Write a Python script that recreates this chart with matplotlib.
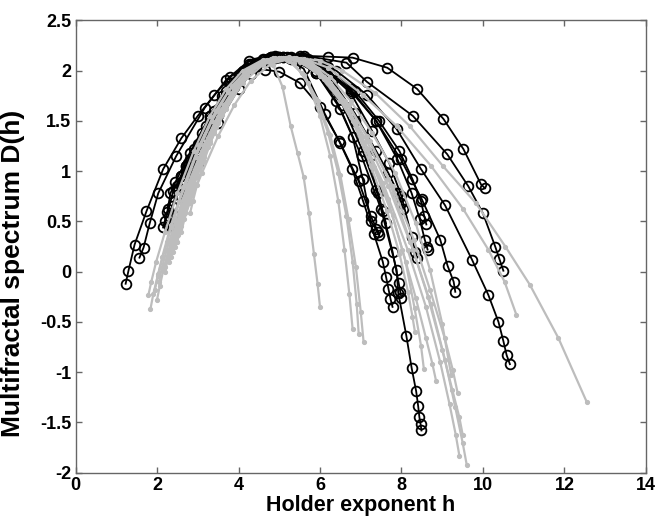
import matplotlib
matplotlib.use("Agg")
import matplotlib.pyplot as plt
from matplotlib.ticker import FuncFormatter

# ---- data: black (circle) spectra ----
black_h = [
    [1.23,1.30,1.45,1.74,2.15,2.60,3.00,3.41,3.80,4.25,4.80,5.50,6.20,6.80,7.65,8.38,9.03,9.52,9.95,10.05],
    [1.57,1.67,1.82,2.03,2.47,3.17,3.70,4.26,4.90,5.60,6.65,7.15,8.28,9.12,9.64,10.00,10.30,10.40,10.50],
    [2.15,2.25,2.33,2.45,2.80,3.30,3.85,4.40,5.00,5.70,6.40,7.15,7.88,8.48,9.07,9.73,10.13,10.38,10.50,10.58,10.66],
    [2.20,2.28,2.40,2.70,3.20,3.70,4.20,4.70,5.30,6.00,6.75,7.38,7.98,8.50,8.95,9.13,9.28,9.32],
    [2.30,2.38,2.50,2.80,3.30,3.80,4.30,4.80,5.30,5.90,6.50,7.02,7.50,7.88,7.92,8.12,8.25,8.36,8.41,8.44,8.47,8.49],
    [2.50,2.60,2.75,3.10,3.60,4.10,4.60,5.10,5.60,6.12,6.47,6.79,7.06,7.32,7.54,7.62,7.68,7.73,7.78],
    [2.60,2.70,2.90,3.30,3.80,4.30,4.80,5.30,5.90,6.55,7.05,7.43,7.78,7.93,7.97,8.00],
    [2.70,2.80,3.00,3.40,3.90,4.40,4.90,5.50,6.10,6.75,7.38,7.90,8.25,8.45,8.57,8.62,8.64],
    [2.75,2.85,3.05,3.45,3.95,4.45,4.95,5.50,6.10,6.75,7.28,7.70,8.00,8.25,8.34,8.38],
    [2.80,2.90,3.10,3.50,4.00,4.50,5.00,5.60,6.20,6.85,7.45,7.95,8.27,8.48,8.56,8.61],
    [2.90,3.00,3.20,3.60,4.10,4.60,5.10,5.70,6.30,6.85,7.38,7.68,7.92,8.00,8.03],
    [3.00,3.10,3.30,3.70,4.20,4.70,5.20,5.80,6.30,6.85,7.22,7.38,7.54,7.62],
    [3.20,3.30,3.50,3.90,4.40,4.90,5.40,5.90,6.40,6.80,7.05,7.25,7.38,7.44],
    [2.30,2.40,2.60,3.00,3.50,4.00,4.30,4.65,5.00,5.50,6.00,6.50,6.95,7.25,7.42],
]
black_D = [
    [-0.12,0.01,0.27,0.60,1.02,1.33,1.55,1.76,1.94,2.07,2.14,2.15,2.14,2.13,2.03,1.82,1.52,1.22,0.87,0.83],
    [0.14,0.24,0.48,0.78,1.15,1.63,1.91,2.10,2.15,2.15,2.08,1.89,1.55,1.17,0.85,0.58,0.25,0.13,0.01],
    [0.44,0.59,0.78,0.89,1.18,1.55,1.85,2.05,2.14,2.12,2.00,1.76,1.42,1.02,0.66,0.12,-0.23,-0.50,-0.69,-0.83,-0.92],
    [0.50,0.62,0.80,1.05,1.45,1.80,2.02,2.12,2.14,2.06,1.82,1.50,1.12,0.72,0.32,0.06,-0.10,-0.20],
    [0.55,0.65,0.82,1.12,1.52,1.85,2.06,2.13,2.12,1.98,1.62,1.15,0.62,0.02,-0.21,-0.64,-0.96,-1.19,-1.34,-1.45,-1.52,-1.58],
    [0.85,0.95,1.08,1.38,1.75,2.00,2.12,2.14,2.02,1.57,1.30,1.02,0.70,0.38,0.10,-0.05,-0.17,-0.27,-0.35],
    [0.95,1.05,1.22,1.55,1.88,2.07,2.14,2.13,2.00,1.66,1.20,0.78,0.20,-0.11,-0.20,-0.26],
    [1.00,1.10,1.27,1.60,1.92,2.08,2.14,2.13,2.03,1.80,1.50,1.12,0.78,0.52,0.32,0.25,0.22],
    [0.98,1.08,1.25,1.58,1.90,2.07,2.14,2.13,2.02,1.78,1.40,1.08,0.75,0.35,0.20,0.14],
    [1.02,1.12,1.30,1.62,1.94,2.09,2.14,2.13,2.04,1.80,1.50,1.20,0.92,0.70,0.55,0.47],
    [1.10,1.20,1.38,1.70,1.98,2.11,2.14,2.10,1.90,1.58,1.20,0.98,0.78,0.68,0.62],
    [1.18,1.28,1.45,1.76,2.02,2.12,2.14,2.06,1.84,1.50,1.15,0.81,0.60,0.48],
    [1.30,1.40,1.56,1.84,2.05,2.13,2.12,1.98,1.70,1.34,0.92,0.50,0.42,0.37],
    [0.45,0.56,0.74,1.08,1.48,1.82,1.97,2.01,1.99,1.88,1.64,1.28,0.90,0.55,0.40],
]

# ---- data: gray (dot) spectra ----
gray_h = [
    [2.40,2.48,2.60,2.80,3.10,3.50,3.90,4.30,4.80,5.40,6.00,6.55,7.35,8.20,9.02,9.83,10.55,11.15,11.85,12.55],
    [2.20,2.28,2.40,2.60,2.90,3.30,3.70,4.10,4.60,5.10,5.60,6.20,7.05,7.88,8.73,9.52,10.13,10.53,10.82],
    [1.79,1.86,1.98,2.20,2.50,2.90,3.30,3.70,4.10,4.60,5.10,5.60,6.10,6.62,7.15,7.68,8.28,8.72,9.07,9.32,9.50,9.60],
    [1.84,1.91,2.03,2.25,2.55,2.95,3.35,3.75,4.15,4.60,5.05,5.50,6.00,6.50,7.02,7.55,8.15,8.60,8.95,9.18,9.33,9.42],
    [2.00,2.07,2.18,2.40,2.70,3.10,3.50,3.90,4.30,4.75,5.20,5.70,6.20,6.70,7.22,7.78,8.30,8.70,9.06,9.26,9.38],
    [2.05,2.12,2.24,2.45,2.75,3.15,3.55,3.95,4.35,4.80,5.25,5.75,6.25,6.75,7.28,7.85,8.35,8.70,9.00,9.22],
    [2.20,2.27,2.38,2.58,2.88,3.25,3.65,4.05,4.45,4.90,5.35,5.80,6.25,6.70,7.18,7.66,8.02,8.35,8.60,8.76,8.85],
    [2.35,2.42,2.53,2.73,3.02,3.40,3.80,4.20,4.60,5.05,5.50,5.95,6.40,6.85,7.32,7.78,8.10,8.32,8.48,8.55],
    [2.50,2.57,2.68,2.88,3.15,3.50,3.85,4.20,4.55,4.90,5.25,5.60,5.95,6.25,6.50,6.70,6.88,7.00,7.07],
    [2.60,2.67,2.78,2.97,3.25,3.60,3.95,4.30,4.65,5.00,5.35,5.70,6.00,6.25,6.45,6.60,6.72,6.80],
    [2.81,2.88,2.98,3.15,3.40,3.70,4.00,4.30,4.58,4.85,5.08,5.28,5.45,5.60,5.73,5.85,5.94,6.00],
    [2.45,2.52,2.63,2.83,3.10,3.45,3.80,4.15,4.50,4.85,5.20,5.55,5.90,6.20,6.45,6.65,6.80,6.90,6.95],
    [1.95,2.02,2.13,2.34,2.64,3.04,3.44,3.84,4.24,4.70,5.15,5.62,6.10,6.62,7.15,7.68,8.22,8.65,9.00,9.25,9.42,9.50],
    [2.30,2.37,2.48,2.68,2.98,3.36,3.76,4.16,4.56,5.00,5.45,5.90,6.35,6.80,7.25,7.65,7.95,8.16,8.27,8.33],
]
gray_D = [
    [0.20,0.30,0.45,0.68,0.98,1.35,1.66,1.90,2.07,2.13,2.10,2.00,1.78,1.45,1.05,0.68,0.25,-0.13,-0.66,-1.30],
    [0.05,0.16,0.32,0.56,0.88,1.28,1.62,1.88,2.06,2.13,2.12,2.03,1.76,1.45,1.05,0.62,0.22,-0.10,-0.43],
    [-0.23,-0.10,0.10,0.40,0.78,1.20,1.55,1.82,2.00,2.11,2.13,2.08,1.92,1.66,1.30,0.85,0.22,-0.32,-0.88,-1.35,-1.70,-1.92],
    [-0.37,-0.22,-0.02,0.30,0.70,1.14,1.50,1.79,1.98,2.10,2.13,2.09,1.95,1.70,1.34,0.88,0.22,-0.35,-0.90,-1.32,-1.62,-1.83],
    [-0.28,-0.14,0.06,0.38,0.76,1.20,1.54,1.82,2.00,2.10,2.13,2.08,1.92,1.66,1.30,0.85,0.32,-0.18,-0.66,-0.98,-1.21],
    [-0.10,0.04,0.22,0.50,0.86,1.26,1.60,1.86,2.03,2.12,2.14,2.09,1.94,1.70,1.38,0.98,0.48,0.02,-0.52,-1.03],
    [0.00,0.14,0.32,0.60,0.95,1.33,1.66,1.90,2.05,2.12,2.13,2.06,1.88,1.60,1.22,0.72,0.22,-0.26,-0.66,-0.92,-1.09],
    [0.15,0.28,0.45,0.72,1.05,1.42,1.74,1.96,2.08,2.13,2.12,2.02,1.80,1.48,1.04,0.56,0.10,-0.36,-0.74,-0.97],
    [0.30,0.42,0.58,0.84,1.14,1.48,1.76,1.96,2.08,2.13,2.10,1.96,1.70,1.36,0.96,0.52,0.05,-0.40,-0.70],
    [0.40,0.52,0.68,0.94,1.24,1.56,1.82,2.00,2.10,2.13,2.08,1.88,1.55,1.15,0.70,0.22,-0.22,-0.57],
    [0.58,0.70,0.86,1.10,1.38,1.66,1.88,2.03,2.09,2.06,1.84,1.45,1.18,0.94,0.58,0.18,-0.12,-0.35],
    [0.25,0.37,0.54,0.80,1.10,1.44,1.73,1.94,2.07,2.13,2.11,1.98,1.72,1.38,0.98,0.55,0.10,-0.32,-0.62],
    [-0.18,-0.04,0.15,0.46,0.84,1.26,1.60,1.85,2.02,2.11,2.13,2.09,1.94,1.70,1.35,0.92,0.30,-0.25,-0.78,-1.18,-1.45,-1.62],
    [0.10,0.23,0.40,0.68,1.02,1.40,1.72,1.95,2.07,2.13,2.12,2.03,1.82,1.50,1.05,0.60,0.18,-0.20,-0.45,-0.60],
]

x_ticks = [0, 2, 4, 6, 8, 10, 12, 14]
y_ticks = [-2, -1.5, -1, -0.5, 0, 0.5, 1, 1.5, 2, 2.5]
x_label = "Holder exponent h"
y_label = "Multifractal spectrum D(h)"

plt.rcParams['font.family'] = ['Liberation Sans', 'DejaVu Sans']

fig = plt.figure(figsize=(6.67, 5.17), dpi=100)
ax = fig.add_axes([0.1132, 0.0857, 0.8553, 0.8747])

for h, d in zip(black_h, black_D):
    ax.plot(h, d, color='black', lw=1.3, marker='o', ms=7, mfc='none',
            mec='black', mew=1.3, zorder=2)
for h, d in zip(gray_h, gray_D):
    ax.plot(h, d, color='#bdbdbd', lw=1.6, marker='.', ms=5.5,
            mec='#bdbdbd', mfc='#bdbdbd', zorder=3)

ax.set_xlim(0, 14)
ax.set_ylim(-2, 2.5)
ax.set_xticks(x_ticks)
ax.set_yticks(y_ticks)
ax.xaxis.set_major_formatter(FuncFormatter(lambda v, p: '%g' % v))
ax.yaxis.set_major_formatter(FuncFormatter(lambda v, p: '%g' % v))
ax.tick_params(direction='in', length=4, width=1, color='#666666',
               top=True, right=True, labelsize=13, pad=3)
for lab in ax.get_xticklabels() + ax.get_yticklabels():
    lab.set_fontweight('bold')
for s in ax.spines.values():
    s.set_color('#666666')
    s.set_linewidth(1.0)

ax.set_xlabel(x_label, fontsize=15.5, fontweight='bold', labelpad=1)
ax.set_ylabel(y_label, fontsize=19, fontweight='bold', labelpad=3)
ax.yaxis.set_label_coords(-0.088, 0.44)

fig.savefig('out.png', dpi=100)
